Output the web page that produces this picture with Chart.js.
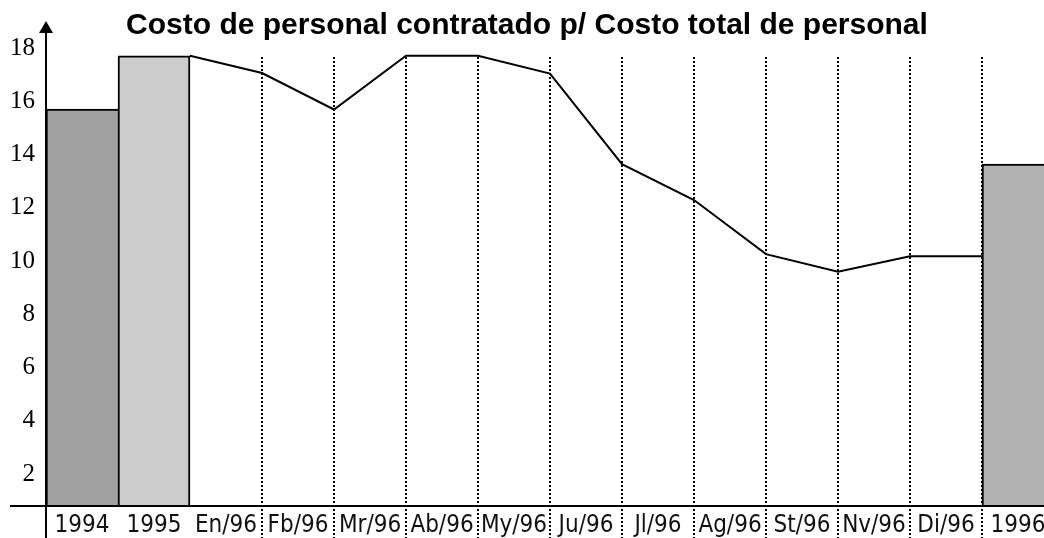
<!DOCTYPE html>
<html>
<head>
<meta charset="utf-8">
<script src="https://cdn.jsdelivr.net/npm/chart.js@4.4.0/dist/chart.umd.min.js"></script>
<style>
  html, body { margin: 0; padding: 0; background: #fff; overflow: hidden; }
  #wrap { width: 1054px; height: 538px; }
</style>
</head>
<body>
<div id="wrap"><canvas id="c" width="1054" height="538"></canvas></div>
<script>
// Categories along the bottom: two yearly bars, the 1996 months, then the 1996 bar.
const categories = ['1994', '1995', 'En/96', 'Fb/96', 'Mr/96', 'Ab/96', 'My/96',
  'Ju/96', 'Jl/96', 'Ag/96', 'St/96', 'Nv/96', 'Di/96', '1996'];

// Yearly bars (null where the month line runs instead).
const yearBars = [15.71, 17.71, null, null, null, null, null, null, null, null, null, null, null, 13.64];
const barColors = ['#a0a0a0', '#cccccc', null, null, null, null, null, null, null, null, null, null, null, '#b2b2b2'];

// Monthly line, one point per category boundary from end of 1995 to start of 1996.
const monthLine = [17.71, 17.06, 15.69, 17.71, 17.71, 17.04, 13.64, 12.29, 10.26, 9.60, 10.18, 10.18];

const yTicks = [2, 4, 6, 8, 10, 12, 14, 16, 18];
const TITLE = 'Costo de personal contratado p/ Costo total de personal';

const barPoints = categories.map((c, i) => ({ x: i, y: yearBars[i] })).filter(p => p.y !== null);
const barFill = barColors.filter(c => c !== null);

// dotted separators between the months, running down past the axis
const decor = {
  id: 'decor',
  beforeDatasetsDraw(chart) {
    const { ctx, scales } = chart;
    const x = scales.x, y = scales.y;
    const top = Math.round(y.getPixelForValue(17.65));
    ctx.save();
    ctx.strokeStyle = '#000';
    ctx.lineWidth = 2;
    ctx.setLineDash([2, 2]);
    for (let k = 2.5; k <= 12.5; k += 1) {
      const px = Math.round(x.getPixelForValue(k));
      ctx.beginPath();
      ctx.moveTo(px, top);
      ctx.lineTo(px, chart.height);
      ctx.stroke();
    }
    ctx.restore();
  },
  afterDatasetsDraw(chart) {
    const { ctx, chartArea } = chart;
    const x0 = chartArea.left, yb = chartArea.bottom;
    ctx.save();
    ctx.strokeStyle = '#000';
    ctx.lineWidth = 2;
    ctx.beginPath();
    ctx.moveTo(x0, 28);
    ctx.lineTo(x0, chart.height);
    ctx.moveTo(10, yb);
    ctx.lineTo(chart.width, yb);
    ctx.stroke();
    // arrow head on the value axis
    ctx.fillStyle = '#000';
    ctx.beginPath();
    ctx.moveTo(x0, 21);
    ctx.lineTo(x0 - 7, 33);
    ctx.lineTo(x0 + 7, 33);
    ctx.closePath();
    ctx.fill();
    ctx.restore();
  }
};

new Chart(document.getElementById('c'), {
  type: 'bar',
  data: {
    datasets: [
      {
        type: 'line',
        data: monthLine.map((v, i) => ({ x: i + 1.5, y: v })),
        borderColor: '#000',
        borderWidth: 2,
        pointRadius: 0,
        tension: 0,
        fill: false,
        order: 0,
      },
      {
        type: 'bar',
        data: barPoints,
        backgroundColor: barFill,
        borderColor: '#000',
        borderWidth: ctx => ({ top: 2, left: 2, right: ctx.dataIndex === 0 ? 0 : 2, bottom: 0 }),
        borderSkipped: 'start',
        barPercentage: 1,
        categoryPercentage: 1,
        order: 1,
      },
    ],
  },
  options: {
    responsive: false,
    animation: false,
    events: [],
    layout: { padding: 0 },
    plugins: {
      legend: { display: false },
      tooltip: { enabled: false },
      title: {
        display: true,
        text: TITLE,
        color: '#000',
        font: { family: '"Liberation Sans", Arial, sans-serif', size: 30, weight: 'bold' },
        padding: { top: 8, bottom: 4 },
      },
    },
    scales: {
      x: {
        type: 'linear',
        min: -0.5,
        max: 13.5,
        offset: false,
        grid: { display: false, drawTicks: false, offset: false },
        border: { display: false },
        afterBuildTicks: s => { s.ticks = categories.map((c, i) => ({ value: i })); },
        ticks: {
          color: '#111',
          font: { family: '"Liberation Sans Narrow", "Arial Narrow", "DejaVu Sans Condensed", sans-serif', size: 24 },
          padding: 5,
          maxRotation: 0,
          autoSkip: false,
          callback: v => categories[v],
        },
        afterFit: s => { s.height = 32; },
      },
      y: {
        type: 'linear',
        min: 0.8,
        max: 18,
        grid: { display: false, drawTicks: false },
        border: { display: false },
        ticks: {
          color: '#000',
          font: { family: '"Liberation Serif", "Times New Roman", serif', size: 25 },
          padding: 11,
        },
        afterBuildTicks: s => { s.ticks = yTicks.map(v => ({ value: v })); },
        afterFit: s => { s.width = 46; },
      },
    },
  },
  plugins: [decor],
});
</script>
</body>
</html>
